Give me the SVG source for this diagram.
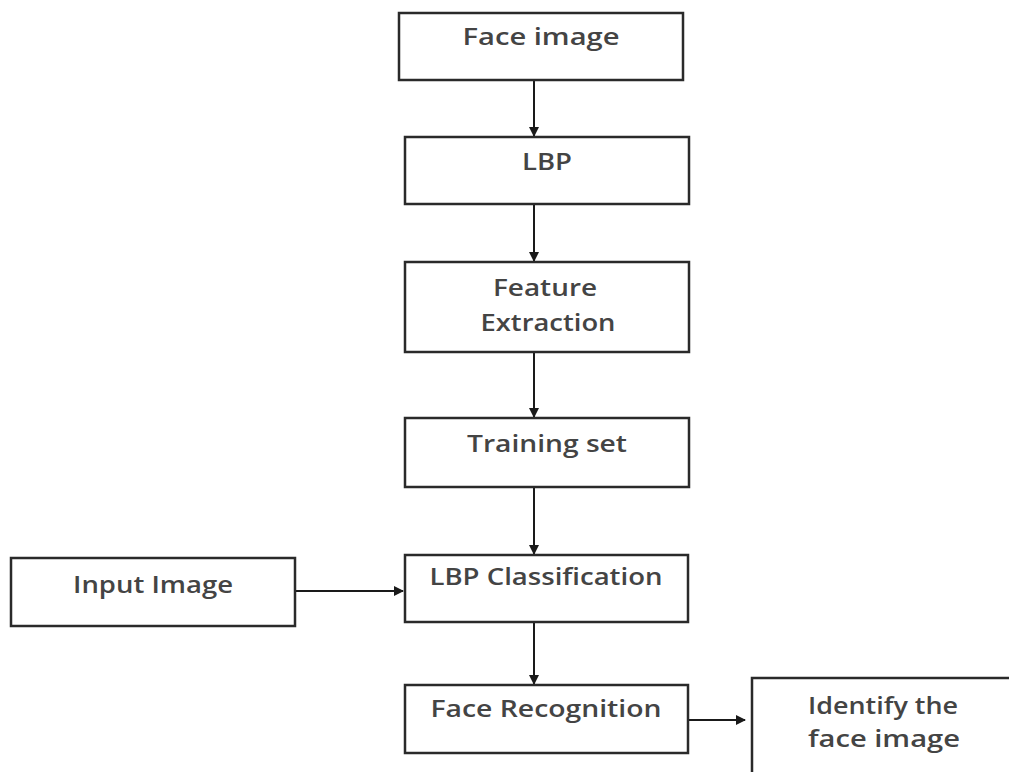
<svg xmlns="http://www.w3.org/2000/svg" width="1009" height="772" viewBox="0 0 1009 772">
<defs>
<marker id="ah" markerWidth="10" markerHeight="10" refX="9" refY="5" orient="auto" markerUnits="userSpaceOnUse">
<path d="M0,0 L10,5 L0,10 z" fill="#1a1a1a"/>
</marker>
<style>
.box{fill:#fff;stroke:#2a2a2a;stroke-width:2.5}
.t{font-family:"Open Sans","Liberation Sans",sans-serif;font-size:23px;font-weight:600;fill:#444;text-anchor:middle}
.c{stroke:#1a1a1a;stroke-width:2;fill:none;marker-end:url(#ah)}
</style>
</defs>
<rect width="1009" height="772" fill="#fff"/>
<g id="connectors">
<line class="c" x1="534" y1="80" x2="534" y2="136"/>
<line class="c" x1="534" y1="204" x2="534" y2="261"/>
<line class="c" x1="534" y1="352" x2="534" y2="417"/>
<line class="c" x1="534" y1="487" x2="534" y2="554"/>
<line class="c" x1="534" y1="622" x2="534" y2="684"/>
<line class="c" x1="295" y1="591" x2="403" y2="591"/>
<line class="c" x1="688" y1="720" x2="745" y2="720"/>
</g>
<g id="face-image"><rect class="box" x="399" y="13" width="284" height="67"/><text class="t" x="541" y="45" textLength="157" lengthAdjust="spacingAndGlyphs">Face image</text></g>
<g id="lbp"><rect class="box" x="405" y="137" width="284" height="67"/><text class="t" x="547" y="170" textLength="50" lengthAdjust="spacingAndGlyphs">LBP</text></g>
<g id="feature-extraction"><rect class="box" x="405" y="262" width="284" height="90"/><text class="t" x="545" y="296" textLength="104" lengthAdjust="spacingAndGlyphs">Feature</text><text class="t" x="548" y="331" textLength="135" lengthAdjust="spacingAndGlyphs">Extraction</text></g>
<g id="training-set"><rect class="box" x="405" y="418" width="284" height="69"/><text class="t" x="547" y="452" textLength="160" lengthAdjust="spacingAndGlyphs">Training set</text></g>
<g id="lbp-classification"><rect class="box" x="405" y="555" width="283" height="67"/><text class="t" x="546" y="585" textLength="233" lengthAdjust="spacingAndGlyphs">LBP Classification</text></g>
<g id="input-image"><rect class="box" x="11" y="558" width="284" height="68"/><text class="t" x="153" y="593" textLength="160" lengthAdjust="spacingAndGlyphs">Input Image</text></g>
<g id="face-recognition"><rect class="box" x="405" y="685" width="283" height="68"/><text class="t" x="546" y="717" textLength="231" lengthAdjust="spacingAndGlyphs">Face Recognition</text></g>
<g id="identify"><rect class="box" x="752" y="678" width="270" height="110"/><text class="t" x="883" y="714" textLength="150" lengthAdjust="spacingAndGlyphs">Identify the</text><text class="t" x="884" y="747" textLength="152" lengthAdjust="spacingAndGlyphs">face image</text></g>
</svg>
